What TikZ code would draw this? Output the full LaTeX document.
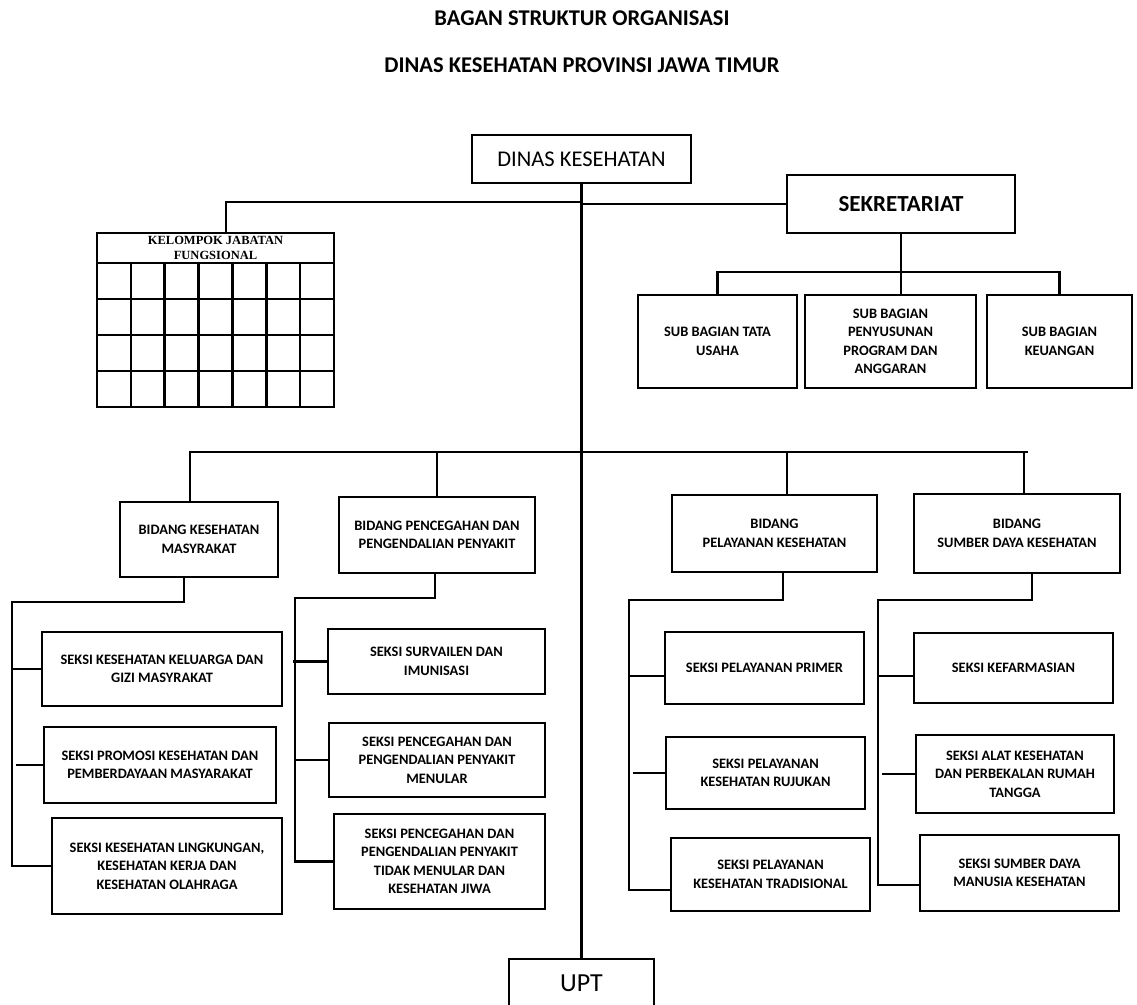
\documentclass[tikz,border=0pt]{standalone}
\usepackage{fontspec}
\setmainfont{Carlito}
\newfontfamily\headserif{Liberation Serif}
\usetikzlibrary{positioning,calc}
\tikzset{
  box/.style={draw=black,line width=2.2pt,align=center,inner sep=2pt,font=\fontsize{14.4}{18.5}\selectfont\bfseries},
  bigbox/.style={box,font=\fontsize{22.5}{26}\selectfont},
  title/.style={font=\fontsize{22.5}{26}\selectfont\bfseries},
  ln/.style={draw=black,line width=2.2pt},
  thinln/.style={draw=black,line width=1.4pt},
  cell/.style={draw=black,line width=2.6pt},
}
\begin{document}
\begin{tikzpicture}[x=1pt,y=-1pt]
  \useasboundingbox[fill=white] (0,0) rectangle (1137,1004);
  % titles
  \node[title] (ttl1) at (582,18.5) {BAGAN STRUKTUR ORGANISASI};
  \node[title] (ttl2) at (582,65) {DINAS KESEHATAN PROVINSI JAWA TIMUR};
  % head, secretariat, UPT
  \node[bigbox,minimum width=219pt,minimum height=48pt] (dinas) at (581.5,159) {DINAS KESEHATAN};
  \node[bigbox,font=\fontsize{23}{26}\selectfont\bfseries,minimum width=228pt,minimum height=58pt] (sekr) at (901,204) {SEKRETARIAT};
  \node[bigbox,font=\fontsize{26}{28}\selectfont,minimum width=145pt,minimum height=48pt] (upt) at (581.5,983) {UPT};
  \node[box,minimum width=159pt,minimum height=93pt] (sbtu) at (717.5,341.5) {SUB BAGIAN TATA\\USAHA};
  \node[box,minimum width=171pt,minimum height=93pt] (sbpp) at (890.5,341.5) {SUB BAGIAN\\PENYUSUNAN\\PROGRAM DAN\\ANGGARAN};
  \node[box,minimum width=145pt,minimum height=93pt] (sbku) at (1059.5,341.5) {SUB BAGIAN\\KEUANGAN};
  % kelompok jabatan fungsional
  \node[cell,minimum width=237pt,minimum height=30pt,inner sep=0pt,align=center,font=\headserif\fontsize{12.5}{14.5}\selectfont\bfseries] (kjf) at (215.5,248) {KELOMPOK JABATAN\\FUNGSIONAL};
  \foreach \c in {0,...,6} \foreach \r in {0,...,3} \draw[cell] (97+33.857*\c,263+36*\r) rectangle ++(33.857,36);
  % bidang
  \node[box,minimum width=158pt,minimum height=75pt] (bkm) at (199,539.5) {BIDANG KESEHATAN\\MASYRAKAT};
  \node[box,minimum width=196pt,minimum height=76pt] (bpp) at (437,535) {BIDANG PENCEGAHAN DAN\\PENGENDALIAN PENYAKIT};
  \node[box,minimum width=205pt,minimum height=77pt] (bpk) at (774.5,533.5) {BIDANG\\PELAYANAN KESEHATAN};
  \node[box,minimum width=206pt,minimum height=79pt] (bsd) at (1017,533.5) {BIDANG\\SUMBER DAYA KESEHATAN};
  % seksi
  \node[box,minimum width=240pt,minimum height=74pt] (ska) at (162,669) {SEKSI KESEHATAN KELUARGA DAN\\GIZI MASYRAKAT};
  \node[box,minimum width=232pt,minimum height=76pt] (skb) at (160,765) {SEKSI PROMOSI KESEHATAN DAN\\PEMBERDAYAAN MASYARAKAT};
  \node[box,minimum width=230pt,minimum height=96pt] (skc) at (167,866) {SEKSI KESEHATAN LINGKUNGAN,\\KESEHATAN KERJA DAN\\KESEHATAN OLAHRAGA};
  \node[box,minimum width=217pt,minimum height=65pt] (skd) at (436.5,661.5) {SEKSI SURVAILEN DAN\\IMUNISASI};
  \node[box,minimum width=216pt,minimum height=74pt] (ske) at (437,760) {SEKSI PENCEGAHAN DAN\\PENGENDALIAN PENYAKIT\\MENULAR};
  \node[box,minimum width=211pt,minimum height=95pt] (skf) at (439.5,861.5) {SEKSI PENCEGAHAN DAN\\PENGENDALIAN PENYAKIT\\TIDAK MENULAR DAN\\KESEHATAN JIWA};
  \node[box,minimum width=199pt,minimum height=72pt] (skg) at (764.5,668) {SEKSI PELAYANAN PRIMER};
  \node[box,minimum width=199pt,minimum height=72pt] (skh) at (765.5,773) {SEKSI PELAYANAN\\KESEHATAN RUJUKAN};
  \node[box,minimum width=199pt,minimum height=73pt] (ski) at (770.5,874.5) {SEKSI PELAYANAN\\KESEHATAN TRADISIONAL};
  \node[box,minimum width=199pt,minimum height=70pt] (skj) at (1013.5,668) {SEKSI KEFARMASIAN};
  \node[box,minimum width=198pt,minimum height=78pt] (skk) at (1015,774) {SEKSI ALAT KESEHATAN\\DAN PERBEKALAN RUMAH\\TANGGA};
  \node[box,minimum width=199pt,minimum height=76pt] (skl) at (1019.5,873) {SEKSI SUMBER DAYA\\MANUSIA KESEHATAN};
  % upper connectors
  \draw[ln] (dinas.south) -- (upt.north);
  \coordinate (kj) at (226,202);
  \draw[ln] (dinas.south |- kj) -- (kj) -- (kj |- kjf.north);
  \draw[ln] (dinas.south |- sekr.west) -- (sekr.west);
  \draw[ln] (sekr.south) -- (sekr.south |- sbpp.north);
  \draw[ln] (sbtu.north) -- ++(0,-22) -| (sbku.north);
  % bidang bus
  \coordinate (bus) at (582,452);
  \coordinate (dkm) at ([xshift=-9pt]bkm.north);
  \coordinate (dpk) at ([xshift=12.5pt]bpk.north);
  \coordinate (dsd) at ([xshift=7pt]bsd.north);
  \draw[ln] (dkm) |- ($(dsd |- bus)+(4,0)$);
  \draw[ln] (dsd) -- (dsd |- bus);
  \draw[ln] (bpp.north) -- (bpp.north |- bus);
  \draw[ln] (dpk) -- (dpk |- bus);
  % seksi, kesehatan masyarakat
  \coordinate (s1) at (12,602);
  \draw[ln] ([xshift=-15pt]bkm.south) |- (s1) |- (skc.west);
  \draw[ln] (s1 |- ska.west) -- (ska.west);
  \draw[ln] ($(s1 |- skb.west)+(4,0)$) -- (skb.west);
  % seksi, pencegahan
  \coordinate (s2) at (295,598);
  \draw[ln] ([xshift=-2pt]bpp.south) |- (s2) |- (skf.west);
  \draw[ln] ($(s2 |- skd.west)+(-2,0)$) -- (skd.west);
  \draw[thinln] (s2 |- ske.west) -- (ske.west);
  % seksi, pelayanan
  \coordinate (s3) at (629,600);
  \coordinate (ci) at ([yshift=-15.5pt]ski.west);
  \coordinate (cg) at ([yshift=-8pt]skg.west);
  \draw[ln] ([xshift=8.5pt]bpk.south) |- (s3) |- (ci);
  \draw[ln] (s3 |- cg) -- (cg);
  \draw[ln] ($(s3 |- skh.west)+(4,0)$) -- (skh.west);
  % seksi, sumber daya
  \coordinate (s4) at (878,600);
  \coordinate (cl) at ([yshift=-12pt]skl.west);
  \coordinate (cj) at ([yshift=-8pt]skj.west);
  \draw[ln] ([xshift=15pt]bsd.south) |- (s4) |- (cl);
  \draw[ln] (s4 |- cj) -- (cj);
  \draw[ln] ($(s4 |- skk.west)+(4,0)$) -- (skk.west);
\end{tikzpicture}
\end{document}
